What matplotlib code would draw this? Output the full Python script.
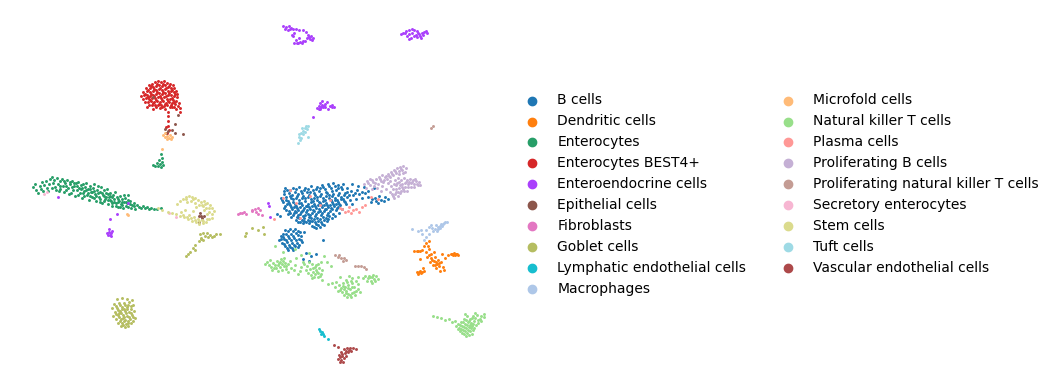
# UMAP of gut cell types, coordinates
import matplotlib
matplotlib.use("Agg")
import matplotlib.pyplot as plt

b_cells = [(287,190),(293,188),(299,187),(305,188),(311,186),(317,187),(322,185),(328,184),(333,183),(338,185),(343,184),(284,194),(289,193),(295,192),(301,191),(307,192),(313,190),(319,191),(325,189),(331,188),(336,190),(342,189),(347,188),
(281,198),(286,197),(291,198),(297,196),(303,196),(309,195),(315,195),(321,194),(327,193),(333,194),(339,193),(345,193),(351,191),(357,190),
(283,202),(288,201),(293,202),(299,200),(305,201),(311,199),(317,200),(323,198),(329,198),(335,198),(341,197),(347,197),(353,195),(359,194),(365,193),
(285,206),(290,205),(296,206),(302,205),(308,204),(314,204),(320,203),(326,203),(332,202),(338,202),(344,201),(350,200),(356,199),(362,198),(368,197),(372,199),
(286,210),(292,209),(298,210),(304,208),(310,209),(316,208),(322,207),(328,207),(334,206),(340,205),(346,204),(352,204),
(288,214),(294,213),(300,214),(306,212),(312,213),(318,212),(324,211),(330,211),(336,210),(342,209),
(291,217),(297,217),(303,216),(309,217),(315,216),(321,215),(327,215),(333,214),(339,213),
(296,220),(302,220),(308,220),(314,219),(320,219),(326,218),(332,218),
(303,223),(309,223),(315,222),(321,222),(327,221),(312,226),(318,225),(324,225),(316,228),
(285,188),(290,190),(296,189),(302,193),(308,189),(314,193),(320,188),(326,192),(332,191),(338,188),(282,200),(287,204),(293,199),(299,203),(305,198),(311,202),(317,197),(323,201),(329,195),(335,200),(341,199),(347,192),(294,207),(300,207),(306,206),(312,206),(318,205),(324,205),(330,205),(336,204),(289,211),(295,211),(301,212),(307,210),(313,210),(319,209),(325,209),(331,208),(337,208),(298,215),(304,218),(310,215),(316,214),(322,213),(328,213),(300,222),(306,222),(312,221),(318,221),(324,220),
(352,184),(358,186),(364,187),(355,193),(349,195),(362,192),(368,191),(374,188),(371,202),(376,201),(381,200),(375,198),(379,196),(385,197),(378,203),(384,201),(388,199),
(285,230),(290,229),(295,229),(300,232),(281,236),(286,234),(291,234),(296,233),(301,236),(279,240),(284,239),(289,238),(294,238),(299,239),(282,243),(287,242),(292,243),(297,243),(302,242),(285,246),(290,247),(295,246),(288,250),(293,250),(283,237),(304,232),(298,247),(306,253),(311,256),(316,254),(303,259),(309,261),(323,240),(277,214),(280,216),
(284,191),(292,195),(298,194),(304,190),(310,192),(316,189),(323,187),(329,186),(335,186),(341,187),(286,200),(290,196),(296,198),(302,198),(308,197),(314,198),(320,196),(326,196),(332,196),(338,195),(344,195),(289,203),(295,204),(301,203),(307,206),(313,201),(319,202),(325,200),(331,200),(337,200),(343,199),(284,208),(291,207),(297,208),(303,210),(309,207),(315,206),(321,205),(327,205),(333,204),(339,204),(345,202),(290,213),(296,212),(302,211),(308,214),(314,211),(320,211),(326,209),(332,209),(338,207),(293,215),(299,218),(305,215),(311,218),(317,218),(323,217),(329,216),(335,216),(298,222),(304,221),(310,221),(316,224),(322,224),(328,219),(314,227),(320,227),(288,231),(293,231),(298,231),(283,234),(288,236),(293,236),(298,235),(281,239),(286,240),(291,240),(296,240),(301,240),(284,244),(289,245),(294,245),(299,245),(287,248),(292,248)]

dendritic = [(414,251),(418,251),(422,250),(426,252),(429,249),(424,246),(428,246),(431,254),(434,252),(427,257),(431,258),(435,257),(430,262),(434,261),(438,260),(433,265),(437,264),(441,262),(436,268),(439,266),(443,267),(445,258),(442,254),(448,255),(451,254),(454,253),(456,254),(458,255),(453,255),(426,243),(429,241),(420,259),(423,268),(420,271),(421,273),(417,272),(424,271),(418,274),(440,271),(444,270),(419,272),(422,272),(455,255),(457,254),(452,254),(417,251),(420,251),(429,255),(432,260),(436,262),(435,265),(439,263)]

enterocytes = [(33,187),(35,184),(36,190),(38,193),(40,186),(42,182),(41,189),(44,185),(46,181),(47,188),(49,184),(50,179),(52,177),(53,183),(55,187),(54,180),(57,178),(58,184),(59,191),(60,181),(62,179),(63,186),(64,192),(65,183),(67,180),(68,188),(69,194),(70,184),(72,181),(73,190),(74,186),(75,196),(76,183),(78,182),(79,188),(80,193),(81,185),(82,198),(83,184),(84,191),(85,187),(86,183),(87,195),(88,189),(89,200),(90,186),(91,192),(92,197),(93,188),(94,184),(95,194),(96,201),(97,190),(98,186),(99,197),(100,192),(101,187),(102,203),(103,195),(104,190),(105,199),(106,193),(107,189),(108,204),(109,197),(110,193),(111,201),(112,206),(113,195),(114,199),(115,192),(116,203),(117,197),(118,207),(119,201),(120,196),(121,204),(122,199),(123,208),(124,202),(125,198),(126,206),(127,203),(128,200),(130,204),(131,208),(132,205),(134,206),(135,209),(137,205),(139,207),(141,208),(143,206),(145,208),(147,207),(149,209),(151,208),(154,209),(157,209),(161,208),
(48,191),(56,190),(66,186),(71,193),(77,190),(83,193),(92,192),(96,196),(104,196),(110,200),(118,202),(60,186),(52,188),(43,191),(88,193),(100,199),(108,194),(124,195),(122,205),(72,187),(81,189),(112,197),(128,195),
(153,165),(155,166),(157,163),(158,166),(160,164),(161,167),(162,162),(159,160),(162,158),(163,165),(161,154),
(64,181),(70,182),(74,183),(77,186),(82,188),(86,190),(90,189),(94,191),(98,193),(102,193),(106,197),(110,196),(114,202),(118,199),(122,202),(126,202),(130,201),(78,195),(84,196),(90,196),(94,198),(100,202),(104,201),(108,200),(112,203),(116,206),(120,207),(128,207),(134,203),(66,190),(60,189)]

best4 = [(149,85),(152,84),(155,82),(158,81),(161,82),(164,81),(167,83),(170,84),(173,85),(146,88),(150,88),(153,87),(156,86),(159,85),(162,86),(165,85),(168,87),(171,88),(174,88),(176,91),(143,92),(147,91),(150,92),(153,91),(156,90),(159,89),(162,90),(165,89),(168,91),(171,91),(174,92),(177,94),(141,96),(144,95),(147,95),(150,96),(153,95),(156,94),(159,93),(162,94),(165,93),(168,95),(171,95),(174,96),(177,97),(143,99),(146,98),(149,99),(152,98),(155,98),(158,97),(161,98),(164,97),(167,99),(170,99),(173,100),(176,101),(179,103),(145,102),(148,102),(151,101),(154,102),(157,101),(160,102),(163,101),(166,103),(169,102),(172,103),(175,104),(178,106),(180,108),(149,105),(152,105),(155,105),(158,105),(161,105),(164,106),(167,105),(170,107),(176,109),(147,107),(153,109),(160,108),(165,109),(172,107),(180,112),(168,112),(168,116),(168,121),(168,126),(166,127),(169,130),(167,133),
(151,86),(157,84),(163,84),(169,86),(148,90),(154,89),(160,88),(166,88),(172,90),(145,94),(151,94),(157,92),(163,92),(169,93),(175,94),(148,97),(154,96),(160,96),(166,96),(172,98),(150,100),(156,100),(162,100),(168,101),(174,102),(153,103),(159,104),(165,104),(171,105),(156,107),(162,107),(174,107)]

enteroendocrine = [(283,26),(286,27),(289,26),(291,28),(288,30),(293,29),(296,29),(299,30),(303,30),(306,32),(308,35),(311,36),(313,38),(310,39),(307,38),(305,41),(303,41),(300,42),(297,43),(294,43),(296,40),(293,36),(292,35),(294,33),(299,38),
(401,34),(403,33),(405,33),(406,31),(409,30),(412,29),(414,30),(417,31),(424,32),(426,31),(427,33),(423,35),(420,36),(417,37),(414,36),(411,38),(409,39),(407,36),(409,34),(412,33),(418,33),(421,38),
(317,108),(319,106),(320,103),(322,105),(320,109),(323,107),(325,104),(325,107),(328,109),(330,106),(332,107),(334,107),(327,102),(322,101),(313,117),
(107,233),(109,232),(111,233),(108,235),(110,235),(112,231),(109,229),(111,236),(110,219),(117,214),(128,203),(58,197),(268,203),(269,206),(270,217),
(298,43),(302,43),(309,37),(312,40),(285,29),(290,29),(416,35),(419,34),(422,33),(321,107),(319,109),(324,106),(332,105)]

epithelial = [(165,129),(168,131),(172,130),(175,133),(166,133),(200,213),(202,218),(199,222),(201,216),(204,216),(199,216),(183,134),(175,124),(153,97),(178,115)]

fibroblasts = [(238,214),(240,213),(242,213),(244,212),(252,211),(255,209),(258,208),(260,210),(256,212),(262,215),(258,214),(252,210),(246,214)]

goblet = [(117,299),(122,298),(127,299),(132,300),(114,304),(119,303),(124,303),(129,302),(133,305),(112,308),(117,308),(122,307),(127,307),(131,309),(115,312),(120,311),(125,311),(129,312),(134,311),(113,316),(118,315),(123,315),(127,316),(132,315),(116,319),(121,319),(125,320),(130,319),(135,318),(118,323),(122,323),(126,324),(131,323),(121,326),(125,327),(128,326),(124,309),(119,313),(128,305),(123,318),
(116,306),(120,305),(125,305),(118,310),(122,309),(127,309),(131,306),(116,314),(121,313),(126,313),(131,313),(119,317),(124,317),(129,317),(133,317),(120,321),(124,321),(128,321),(133,321),(123,325),(128,323),
(200,234),(203,233),(205,236),(208,237),(201,238),(203,240),(207,233),(210,235),(212,237),(214,236),(216,234),(220,234),(199,241),(201,239),(195,245),(193,248),(190,252),(188,254),(186,256),(195,250),(246,233),(252,228),(258,230),(245,236),(263,227),(264,234)]

lymphatic = [(319,329),(320,331),(322,332),(321,334),(323,334),(324,336),(328,339)]

macrophages = [(412,229),(418,231),(421,230),(426,230),(429,227),(432,228),(435,229),(438,227),(440,226),(443,224),(445,222),(441,224),(438,229),(436,225),(444,223),(447,222),(433,231),(429,234),(426,237),(424,240),(431,225),(422,234),(440,228),(442,226),(437,231)]

microfold = [(163,135),(165,137),(167,139),(169,138),(171,139),(172,137),(167,136),(165,133),(170,135),(162,149),(128,215),(127,214)]

nk_cells = [(267,262),(269,265),(271,267),(273,263),(275,265),(277,261),(279,263),(281,259),(283,261),(285,263),(276,268),(280,267),(284,266),(288,264),(272,270),(278,271),(282,270),(286,269),(291,268),(294,270),(288,272),(295,265),(301,267),(304,264),(307,266),(300,271),(306,270),(309,262),(312,264),(315,267),(318,264),(321,262),(310,269),(313,272),(316,270),(319,268),(322,270),(311,275),(315,274),(318,273),(321,274),(314,277),(318,277),(283,252),(275,246),(295,249),(301,255),(309,253),(327,262),(331,266),(324,256),
(274,268),(278,265),(282,264),(286,266),(280,262),(284,258),(290,261),(313,268),(317,272),(320,276),(316,265),(308,273),(312,278),(296,258),(303,262),(270,260),(298,274),(265,264),
(328,284),(332,283),(336,282),(340,277),(343,283),(346,280),(349,276),(352,278),(339,285),(335,287),(341,288),(345,287),(348,285),(352,283),(356,281),(338,291),(342,292),(346,291),(350,289),(354,287),(358,284),(344,295),(348,294),(352,293),(356,291),(347,297),(351,297),(355,295),(370,277),(373,275),(376,276),(378,279),(374,279),(371,281),(368,278),(365,276),(372,283),(363,278),(358,277),
(340,290),(344,289),(348,288),(352,287),(346,293),(350,295),(354,292),(358,289),(343,286),(347,282),(351,281),(369,276),(372,277),(375,281),(367,281),(322,280),(360,292),
(433,316),(437,317),(441,318),(445,320),(449,319),(452,322),(455,321),(458,324),(461,322),(464,319),(467,316),(470,319),(473,316),(477,315),(481,316),(484,317),(456,326),(459,328),(462,326),(465,324),(468,322),(471,323),(474,321),(478,320),(481,321),(460,331),(463,330),(466,328),(469,327),(472,326),(476,325),(464,334),(467,333),(470,331),(473,330),(466,336),(469,335),(472,334),
(458,329),(461,329),(464,327),(467,325),(470,325),(473,324),(462,333),(465,331),(468,330),(471,328),(463,322),(466,320),(469,321),(472,318),(475,318),(478,323),(480,319),(474,328),(460,325),(475,313),(465,314),(484,314)]

plasma = [(345,212),(348,211),(351,213),(353,210),(356,209),(359,212),(362,207),(365,205),(342,209),(349,207),(371,197),(378,199),(290,190),(310,196),(330,200),(300,218),(320,205),(283,198),(340,208),(296,203),(274,219)]

prolif_b = [(364,184),(367,181),(370,179),(373,182),(376,179),(379,177),(382,175),(385,177),(388,174),(391,172),(394,170),(397,168),(400,167),(403,166),(406,168),(370,185),(374,186),(378,184),(381,181),(384,180),(387,179),(390,177),(393,175),(396,173),(399,171),(402,170),(405,172),(399,174),(366,188),(372,189),(377,188),(382,186),(388,183),(391,186),(386,189),(381,191),(395,180),(398,178),(401,180),(404,178),(407,180),(410,179),(413,180),(416,181),(419,182),(420,185),(417,184),(414,184),(411,183),(408,184),(405,183),(402,184),(399,182),(396,185),(393,189),(396,189),(399,188),(402,187),(405,187),(408,187),(411,187),(414,187),(398,192),(401,191),(404,191),(407,191),(392,194),(395,194),(398,196),(394,198),(390,192),
(368,183),(372,180),(375,183),(380,179),(383,182),(386,176),(389,176),(392,174),(395,171),(401,169),(403,173),(390,181),(394,184),(397,183),(400,185),(403,189),(406,182),(409,182),(412,182),(415,179),(418,185),(400,193),(396,192),(393,196)]

prolif_nk = [(335,255),(338,257),(341,258),(344,258),(346,260),(343,261),(339,255),(355,266),(358,266),(361,266),(364,267),(366,269),(431,128),(433,126)]

secretory = [(44,194),(47,192),(176,217),(169,213)]

stem = [(168,212),(172,213),(176,214),(180,216),(184,217),(188,219),(192,221),(196,222),(199,224),(203,223),(206,222),(209,219),(177,204),(180,201),(183,199),(186,197),(189,196),(192,197),(195,198),(198,200),(201,202),(204,201),(207,203),(210,205),(212,208),(214,211),(212,214),(209,212),(206,208),(203,206),(199,205),(196,207),(193,211),(207,214),(204,210),(187,202),(191,201),(195,203),(185,210),(181,212),(189,215),(194,217),(198,219),(202,220),(158,208),(162,210),(212,218),
(183,215),(187,217),(191,218),(195,220),(199,221),(203,221),(207,219),(205,204),(209,208),(202,205),(186,199),(193,199)]

tuft = [(298,143),(299,137),(299,134),(301,138),(301,133),(303,131),(303,134),(305,128),(306,126),(308,126),(307,129),(305,132),(308,137),(300,140),(302,128)]

vascular = [(334,345),(338,347),(341,352),(344,349),(347,348),(350,348),(353,348),(356,349),(339,355),(342,356),(345,353),(348,352),(351,351),(338,359),(341,360),(344,358),(346,356),(340,362),(343,362),(342,354),(340,357),(346,351),(349,350)]

labels = ["B cells", "Dendritic cells", "Enterocytes", "Enterocytes BEST4+", "Enteroendocrine cells",
          "Epithelial cells", "Fibroblasts", "Goblet cells", "Lymphatic endothelial cells", "Macrophages",
          "Microfold cells", "Natural killer T cells", "Plasma cells", "Proliferating B cells",
          "Proliferating natural killer T cells", "Secretory enterocytes", "Stem cells", "Tuft cells",
          "Vascular endothelial cells"]
colors = ["#1f77b4", "#ff7f0e", "#279e68", "#d62728", "#aa40fc", "#8c564b", "#e377c2", "#b5bd61", "#17becf",
          "#aec7e8", "#ffbb78", "#98df8a", "#ff9896", "#c5b0d5", "#c49c94", "#f7b6d2", "#dbdb8d", "#9edae5",
          "#ad494a"]
clusters = [b_cells, dendritic, enterocytes, best4, enteroendocrine, epithelial, fibroblasts, goblet, lymphatic,
            macrophages, microfold, nk_cells, plasma, prolif_b, prolif_nk, secretory, stem, tuft, vascular]

fig = plt.figure(figsize=(10.54, 3.89), dpi=100)
ax = fig.add_axes([0, 0, 506 / 1054, 1])

for pts, col, lab in zip(clusters, colors, labels):
    xs = [p[0] for p in pts]
    ys = [p[1] for p in pts]
    ax.scatter(xs, ys, s=4.5, c=col, linewidths=0)
    ax.scatter([], [], c=col, label=lab)

ax.set_xlim(0, 506)
ax.set_ylim(389, 0)
ax.axis("off")
ax.legend(frameon=False, loc="center left", bbox_to_anchor=(1, 0.5), ncol=2, fontsize=10)

plt.savefig("out.png", dpi=100)
